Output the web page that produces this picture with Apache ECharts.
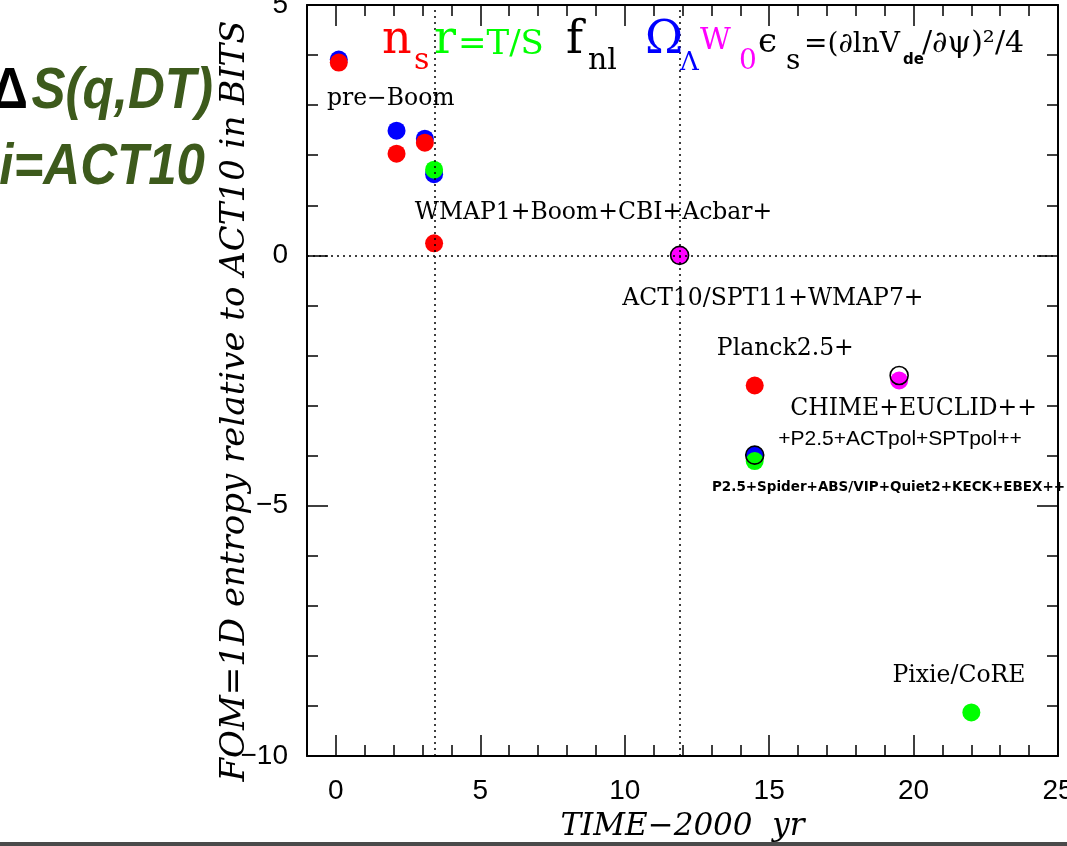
<!DOCTYPE html>
<html>
<head>
<meta charset="utf-8">
<script src="https://cdn.jsdelivr.net/npm/echarts@6/dist/echarts.min.js"></script>
<style>
  html, body { margin: 0; padding: 0; background: #fff; }
  #chart { width: 1067px; height: 846px; }
</style>
</head>
<body>
<div id="chart"></div>
<script>
// values: [time-2000, delta S in bits]
var nsPoints = [[0.1, 3.85], [2.1, 2.03], [3.08, 2.25], [3.4, 0.24], [14.5, -2.6]];
var omegaPoints = [[0.1, 3.91], [2.1, 2.49], [3.08, 2.33], [3.4, 1.62], [14.5, -3.99]];
var rPoints = [[3.4, 1.71], [14.5, -4.11], [22.0, -9.13]];
var w0Points = [[11.9, 0], [19.5, -2.5]];
var ringPoints = [[11.9, 0], [19.5, -2.4], [14.5, -3.99]];
var refLinesX = [3.42, 11.9];
var xTickLabels = [0, 5, 10, 15, 20, 25];

// experiment labels: [x, y, text]
var serifNotes = [
  [1.9, 3.12, 'pre\u2212Boom'],
  [8.92, 0.84, 'WMAP1+Boom+CBI+Acbar+'],
  [15.13, -0.86, 'ACT10/SPT11+WMAP7+'],
  [15.56, -1.86, 'Planck2.5+'],
  [20.0, -3.06, 'CHIME+EUCLID++'],
  [21.57, -8.4, 'Pixie/CoRE']
];
var sansNotes = [[19.53, -3.68, '+P2.5+ACTpol+SPTpol++']];
var boldNotes = [[13.02, -4.64, 'P2.5+Spider+ABS/VIP+Quiet2+KECK+EBEX++']];

var chart = echarts.init(document.getElementById('chart'));

var SERIF = 'DejaVu Serif';
var SANS = 'Liberation Sans';

// top "legend" text, baseline positioned
function txt(x, base, s, fs, color, extra) {
  var st = { text: s, fontSize: fs, fontFamily: SERIF, fill: color, align: 'left', verticalAlign: 'middle' };
  if (extra) for (var k in extra) st[k] = extra[k];
  return { type: 'text', x: x, y: base - 0.35 * fs, style: st, z: 10 };
}

function dot(color) {
  return { type: 'scatter', symbol: 'circle', symbolSize: 18, itemStyle: { color: color, opacity: 1 }, z: 3 };
}

function notes(data, font, pos) {
  return {
    type: 'scatter', data: data, symbolSize: 0, silent: true, z: 5,
    itemStyle: { opacity: 1 },
    label: {
      show: true, position: pos || 'inside', distance: 0, color: '#000', opacity: 1,
      formatter: function (p) { return p.value[2]; },
      fontFamily: font.family, fontSize: font.size, fontWeight: font.weight || 'normal'
    }
  };
}

var tickLine = { color: '#000', width: 1.5 };
var axisLine = { show: true, onZero: false, lineStyle: { color: '#000', width: 2 } };
var noLine = { show: false, onZero: false };

var option = {
  backgroundColor: '#fff',
  animation: false,
  grid: { left: 307, right: 9, top: 5, bottom: 90, containLabel: false, outerBoundsMode: 'none' },
  xAxis: [
    {
      type: 'value', min: -1, max: 25, position: 'bottom',
      axisLine: axisLine,
      axisTick: { show: true, inside: true, length: 21, lineStyle: tickLine, customValues: xTickLabels },
      axisLabel: { customValues: xTickLabels, fontFamily: SANS, fontSize: 28, color: '#000', margin: 21 },
      splitLine: { show: false },
      name: 'TIME\u22122000  yr', nameLocation: 'middle', nameGap: 55,
      nameTextStyle: { fontFamily: SERIF, fontStyle: 'italic', fontSize: 31, color: '#000' }
    },
    {
      type: 'value', min: -1, max: 25, interval: 1, position: 'bottom',
      axisLine: noLine,
      axisTick: { show: true, inside: true, length: 11, lineStyle: tickLine },
      axisLabel: { show: false }, splitLine: { show: false }
    },
    {
      type: 'value', min: -1, max: 25, position: 'top',
      axisLine: axisLine,
      axisTick: { show: true, inside: true, length: 21, lineStyle: tickLine, customValues: xTickLabels },
      axisLabel: { show: false }, splitLine: { show: false }
    },
    {
      type: 'value', min: -1, max: 25, interval: 1, position: 'top',
      axisLine: noLine,
      axisTick: { show: true, inside: true, length: 11, lineStyle: tickLine },
      axisLabel: { show: false }, splitLine: { show: false }
    }
  ],
  yAxis: [
    {
      type: 'value', min: -10, max: 5, interval: 5, position: 'left',
      axisLine: axisLine,
      axisTick: { show: true, inside: true, length: 21, lineStyle: tickLine },
      minorTick: { show: true, splitNumber: 5, length: 11, lineStyle: tickLine },
      axisLabel: {
        fontFamily: SANS, fontSize: 28, color: '#000', margin: 19,
        formatter: function (v) { return v < 0 ? '\u2212' + Math.abs(v) : String(v); }
      },
      splitLine: { show: false }
    },
    {
      type: 'value', min: -10, max: 5, interval: 5, position: 'right',
      axisLine: axisLine,
      axisTick: { show: true, inside: true, length: 21, lineStyle: tickLine },
      minorTick: { show: true, splitNumber: 5, length: 11, lineStyle: tickLine },
      axisLabel: { show: false }, splitLine: { show: false }
    }
  ],
  series: [
    {
      type: 'scatter', data: [], z: 1, silent: true,
      markLine: {
        silent: true, symbol: 'none', animation: false,
        label: { show: false },
        lineStyle: { type: [2, 4], color: '#000', width: 1.5 },
        data: refLinesX.map(function (v) { return { xAxis: v }; }).concat([{ yAxis: 0 }])
      }
    },
    Object.assign(dot('#0000ff'), { name: 'OmegaL', data: omegaPoints }),
    Object.assign(dot('#ff0000'), { name: 'ns', data: nsPoints }),
    Object.assign(dot('#00ff00'), { name: 'r', data: rPoints }),
    Object.assign(dot('#ff00ff'), { name: 'w0', data: w0Points }),
    {
      type: 'scatter', name: 'ring', data: ringPoints, symbol: 'circle', symbolSize: 18, z: 4,
      itemStyle: { color: 'rgba(0,0,0,0)', borderColor: '#000', borderWidth: 1.6, opacity: 1 }
    },
    notes(serifNotes, { family: SERIF, size: 23.5 }),
    notes(sansNotes, { family: SANS, size: 21 }),
    notes(boldNotes, { family: 'DejaVu Sans', size: 13.5, weight: 'bold' }, 'right')
  ],
  graphic: [
    // parameter "legend" across the top
    txt(382, 57, 'n', 46, '#ff0000'),
    txt(414, 72, 's', 30, '#ff0000'),
    txt(434, 57, 'r', 46, '#00ff00'),
    txt(458, 57, '=T/S', 34, '#00ff00'),
    txt(566, 57, 'f', 46, '#000'),
    txt(588, 72, 'nl', 30, '#000'),
    txt(645, 57, '\u03a9', 46, '#0000ff'),
    txt(680, 72, '\u039b', 26, '#0000ff'),
    txt(700, 52, 'W', 30, '#ff00ff'),
    txt(739, 72, '0', 28, '#ff00ff'),
    txt(758, 55, '\u03f5', 34, '#000'),
    txt(786, 72, 's', 28, '#000'),
    txt(804, 55, '=(\u2202lnV', 28, '#000'),
    txt(903, 65, 'de', 15, '#000', { fontFamily: 'DejaVu Sans', fontWeight: 'bold' }),
    txt(922, 55, '/\u2202\u03c8)\u00b2/4', 30, '#000'),
    // y axis title
    {
      type: 'text', x: 235, y: 401, rotation: Math.PI / 2,
      style: {
        text: 'FOM=1D entropy relative to ACT10 in BITS', fontFamily: SERIF, fontStyle: 'italic',
        fontSize: 34, fill: '#000', align: 'center', verticalAlign: 'middle'
      }
    },
    // big title on the left
    {
      type: 'text', x: 28, y: 112 - 0.35 * 58, scaleX: 0.88,
      style: { text: '\u0394', fontFamily: SANS, fontWeight: 'bold', fontSize: 58, fill: '#000', align: 'right', verticalAlign: 'middle' }
    },
    {
      type: 'text', x: 213, y: 112 - 0.35 * 58, scaleX: 0.88,
      style: { text: 'S(q,DT)', fontFamily: SANS, fontWeight: 'bold', fontStyle: 'italic', fontSize: 58, fill: '#3d5a1c', align: 'right', verticalAlign: 'middle' }
    },
    {
      type: 'text', x: 205, y: 188 - 0.35 * 58, scaleX: 0.88,
      style: { text: 'i=ACT10', fontFamily: SANS, fontWeight: 'bold', fontStyle: 'italic', fontSize: 58, fill: '#3d5a1c', align: 'right', verticalAlign: 'middle' }
    },
    // dark strip along the bottom edge
    { type: 'rect', left: 0, top: 842, shape: { width: 1067, height: 4 }, style: { fill: '#4a4a4a' } }
  ]
};

chart.setOption(option);
</script>
</body>
</html>
